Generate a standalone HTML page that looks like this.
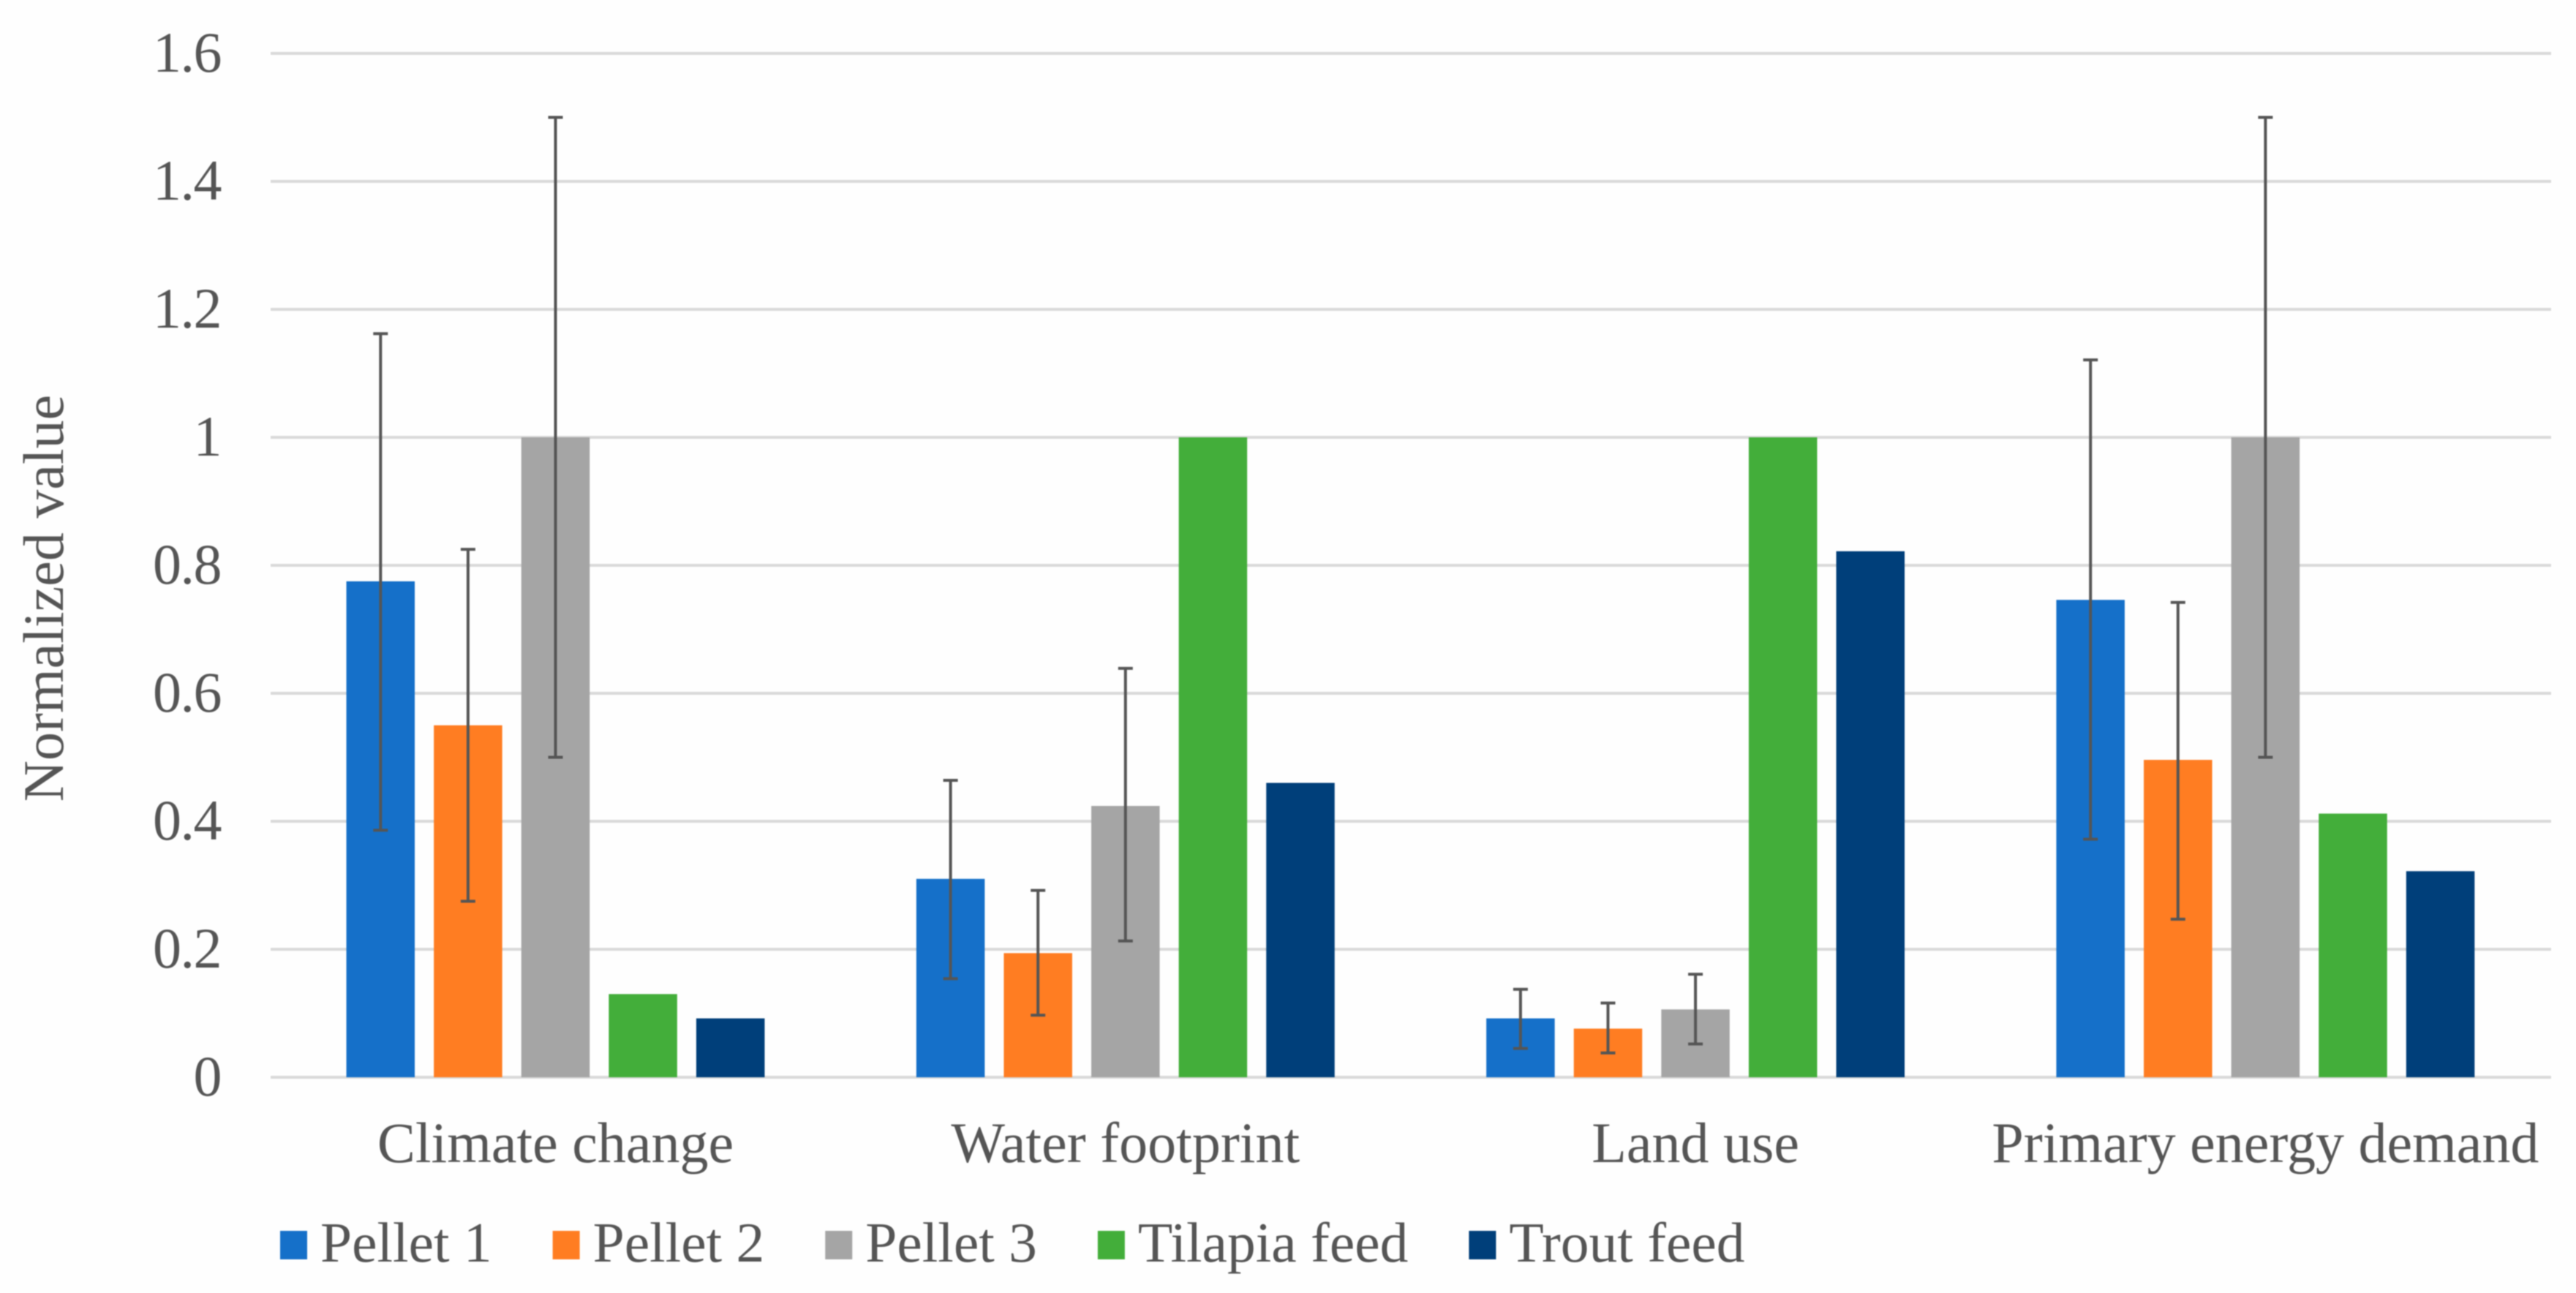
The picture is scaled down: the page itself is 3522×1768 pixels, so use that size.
<!DOCTYPE html>
<html lang="en">
<head>
<meta charset="utf-8">
<title>Normalized value by impact category</title>
<style>
  html, body { margin: 0; padding: 0; background: #ffffff; }
  body { width: 3522px; height: 1768px; overflow: hidden; }
  #chart { display: block; filter: blur(0.9px); }
  text { font-family: "Liberation Serif", serif; fill: #555555; font-size: 78px; }
  #yticks text { letter-spacing: -1.5px; }
  #legend text { font-size: 77.5px; }
</style>
</head>
<body>
<svg id="chart" xmlns="http://www.w3.org/2000/svg" width="3522" height="1768" viewBox="0 0 3522 1768">
  <rect x="0" y="0" width="3522" height="1768" fill="#fefefe"></rect>
  <g id="grid"></g>
  <g id="yticks"></g>
  <g id="bars"></g>
  <g id="errors"></g>
  <g id="xlabels"></g>
  <text transform="translate(86 818) rotate(-90)" text-anchor="middle">Normalized value</text>
  <g id="legend"></g>
</svg>
<script>
const categories = ["Climate change", "Water footprint", "Land use", "Primary energy demand"];
const tickValues = [0, 0.2, 0.4, 0.6, 0.8, 1, 1.2, 1.4, 1.6];
const tickLabels = ["0", "0.2", "0.4", "0.6", "0.8", "1", "1.2", "1.4", "1.6"];
const seriesNames = ["Pellet 1", "Pellet 2", "Pellet 3", "Tilapia feed", "Trout feed"];
const seriesColors = ["#1570c9", "#ff7d22", "#a5a5a5", "#43ae3a", "#003f7a"];

const pellet1 = [0.775, 0.31, 0.092, 0.746];
const pellet2 = [0.55, 0.194, 0.076, 0.496];
const pellet3 = [1, 0.424, 0.106, 1];
const tilapiaFeed = [0.13, 1, 1, 0.412];
const troutFeed = [0.092, 0.46, 0.822, 0.322];

const pellet1High = [1.162, 0.464, 0.1375, 1.121];
const pellet1Low = [0.386, 0.154, 0.045, 0.372];
const pellet2High = [0.825, 0.292, 0.116, 0.742];
const pellet2Low = [0.275, 0.097, 0.038, 0.247];
const pellet3High = [1.5, 0.639, 0.161, 1.5];
const pellet3Low = [0.5, 0.213, 0.052, 0.5];

const seriesValues = [pellet1, pellet2, pellet3, tilapiaFeed, troutFeed];
const seriesHigh = [pellet1High, pellet2High, pellet3High, null, null];
const seriesLow = [pellet1Low, pellet2Low, pellet3Low, null, null];

const SVG_NS = "http://www.w3.org/2000/svg";
const plotLeft = 370, plotRight = 3488, plotBottom = 1473, pxPerUnit = 875;
const bandLeft = 369.85, bandWidth = 779.3;
const barStep = 119.6, barWidth = 93.5, capWidth = 20;

function yScale(v) { return plotBottom - v * pxPerUnit; }
function groupCenter(i) { return bandLeft + (i + 0.5) * bandWidth; }
function barCenter(i, j) { return groupCenter(i) + (j - (seriesValues.length - 1) / 2) * barStep; }

function make(tag, attrs, parent, content) {
  const el = document.createElementNS(SVG_NS, tag);
  for (const k in attrs) el.setAttribute(k, attrs[k]);
  if (content !== undefined) el.textContent = content;
  parent.appendChild(el);
  return el;
}

const gridGroup = document.getElementById("grid");
const yTickGroup = document.getElementById("yticks");
tickValues.forEach(function (t, k) {
  const line = make("line", { x1: plotLeft, x2: plotRight, y1: yScale(t), y2: yScale(t), stroke: "#d9d9d9", "stroke-width": 4 }, gridGroup);
  
  
  const label = make("text", { x: 302, y: yScale(t) + 25, "text-anchor": "end" }, yTickGroup, tickLabels[k]);
  
  
});

const barGroup = document.getElementById("bars");
const errorGroup = document.getElementById("errors");
categories.forEach(function (cat, i) {
  seriesValues.forEach(function (vals, j) {
    const cx = barCenter(i, j);
    const bar = make("rect", {
      x: cx - barWidth / 2,
      y: yScale(vals[i]),
      width: barWidth,
      height: plotBottom - yScale(vals[i]),
      fill: seriesColors[j]
    }, barGroup);
    
    
    if (seriesHigh[j] && seriesLow[j]) {
      const yHigh = yScale(seriesHigh[j][i]);
      const yLow = yScale(seriesLow[j][i]);
      const path = "M" + cx + " " + yHigh + "V" + yLow +
        "M" + (cx - capWidth / 2) + " " + yHigh + "H" + (cx + capWidth / 2) +
        "M" + (cx - capWidth / 2) + " " + yLow + "H" + (cx + capWidth / 2);
      const err = make("path", { d: path, stroke: "#555555", "stroke-width": 4, fill: "none" }, errorGroup);
      
      
    }
  });
  const xl = make("text", { x: groupCenter(i), y: 1589, "text-anchor": "middle" }, document.getElementById("xlabels"), cat);
  
  
});

const legendGroup = document.getElementById("legend");
let legendX = 383;
seriesNames.forEach(function (name, j) {
  const entry = make("g", {}, legendGroup);
  
  
  const swatch = make("rect", { x: legendX, y: 1683, width: 37, height: 39, fill: seriesColors[j] }, entry);
  
  
  const label = make("text", { x: legendX + 55, y: 1725 }, entry, name);
  
  
  legendX += 55 + label.getComputedTextLength() + 83;
});
</script>
</body>
</html>
